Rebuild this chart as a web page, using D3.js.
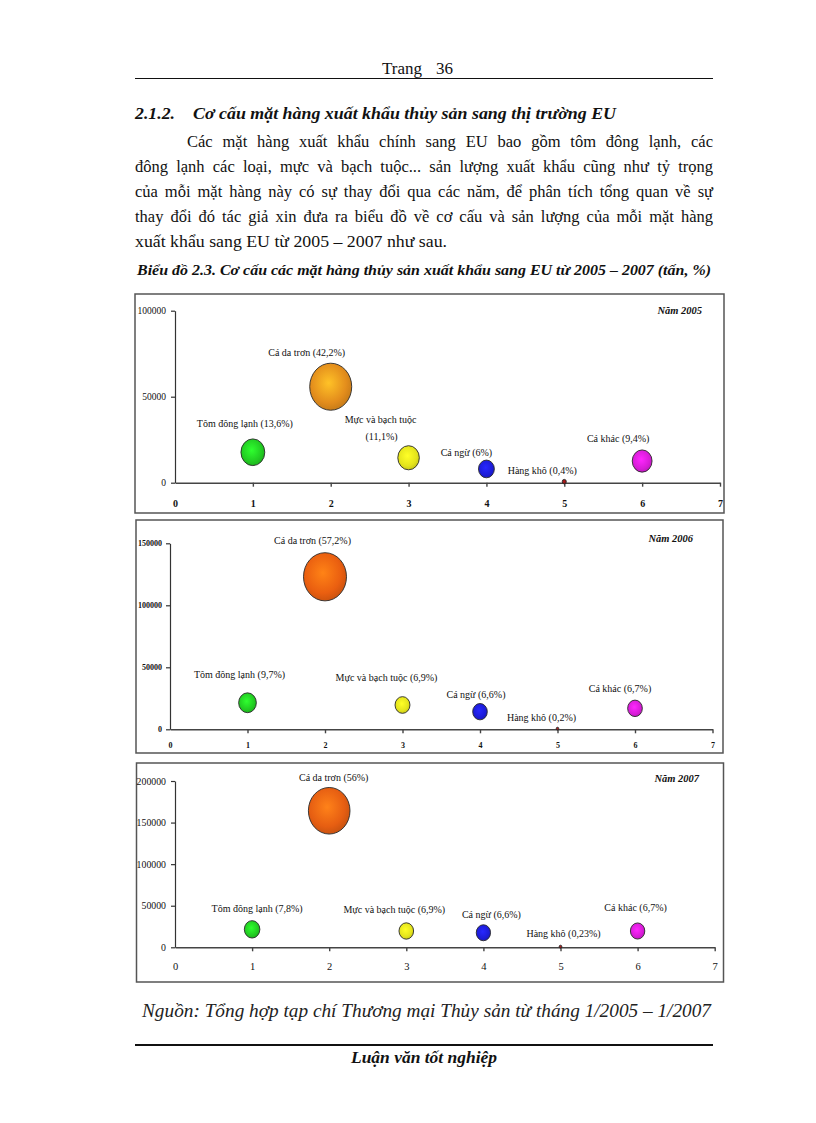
<!DOCTYPE html>
<html><head><meta charset="utf-8">
<script src="https://cdn.jsdelivr.net/npm/d3@7"></script>
<style>
body{margin:0;background:#fff}
svg{display:block}
</style>
</head><body>
<div id="page"></div>
<script>
// ---------- DATA ----------
const categories = ["Tôm đông lạnh", "Cá da trơn", "Mực và bạch tuộc", "Cá ngừ", "Hàng khô", "Cá khác"];
const xPositions = [1, 2, 3, 4, 5, 6];
const years = ["2005", "2006", "2007"];
// export volume (tonnes)
const tonnes2005 = [17700, 55800, 14500, 8000, 600, 12600];
const tonnes2006 = [21400, 123000, 19600, 14200, 500, 16900];
const tonnes2007 = [21600, 164200, 19600, 17500, 700, 19600];
// share (%), bubble size
const share2005 = [13.6, 42.2, 11.1, 6, 0.4, 9.4];
const share2006 = [9.7, 57.2, 6.9, 6.6, 0.2, 6.7];
const share2007 = [7.8, 56, 6.9, 6.6, 0.23, 6.7];
const yTicks2005 = [0, 50000, 100000];
const yTicks2006 = [0, 50000, 100000, 150000];
const yTicks2007 = [0, 50000, 100000, 150000, 200000];
const xTicks = [0, 1, 2, 3, 4, 5, 6, 7];

// ---------- STYLE / LAYOUT ----------
const W = 816, H = 1123;
const serif = "'Liberation Serif','Times New Roman',serif";
const baseColors = ["#22cc22", null, "#e4e41c", "#1c1cd8", "#8a1515", "#d81cd8"];
const catfishColors = {"2005": "#e38d1c", "2006": "#ea5f10", "2007": "#e65e12"};

const panels = [
  {year: "2005", tonnes: tonnes2005, share: share2005, yTicks: yTicks2005,
   frame: [135, 294, 724, 513], plot: {left: 175, right: 720, bottom: 482.7, top: 310.7},
   maxR: 21, yFont: 9.5, yWeight: "normal", xFont: 10, xWeight: "bold", xPad: 13, yPad: 5,
   yearPos: [702, 314], labelFont: 10,
   labelOff: [[-8, -29], [-24, -34], [-28, -38], [-20, -16], [-22, -11], [-24, -23]], wrap: [2]},
  {year: "2006", tonnes: tonnes2006, share: share2006, yTicks: yTicks2006,
   frame: [136, 520, 723, 753], plot: {left: 170, right: 712.5, bottom: 729.3, top: 543.3},
   maxR: 21.5, yFont: 8, yWeight: "bold", xFont: 8, xWeight: "bold", xPad: 9, yPad: 4,
   yearPos: [693, 542], labelFont: 10,
   labelOff: [[-8, -28], [-12.5, -36], [-16, -27], [-4, -17], [-16, -11], [-15, -20]], wrap: []},
  {year: "2007", tonnes: tonnes2007, share: share2007, yTicks: yTicks2007,
   frame: [136.5, 763, 723.5, 982], plot: {left: 175, right: 714.7, bottom: 947.3, top: 781},
   maxR: 20.8, yFont: 9.8, yWeight: "normal", xFont: 10.5, xWeight: "normal", xPad: 11, yPad: 5,
   yearPos: [699, 781.5], labelFont: 10,
   labelOff: [[5, -21], [4.5, -33], [-12, -22], [8, -18], [3, -13], [-2, -24]], wrap: []}
];
const aspect = 1.12;

const svg = d3.select("#page").append("svg").attr("width", W).attr("height", H)
  .style("font-family", serif);
svg.append("rect").attr("width", W).attr("height", H).attr("fill", "#fff");

function txt(x, y, s, o = {}) {
  const t = svg.append("text").attr("x", x).attr("y", y).text(s)
    .attr("font-size", o.size || 17).attr("fill", "#111");
  if (o.bold) t.attr("font-weight", "bold");
  if (o.italic) t.attr("font-style", "italic");
  if (o.anchor) t.attr("text-anchor", o.anchor);
  if (o.len) t.attr("textLength", o.len).attr("lengthAdjust", "spacingAndGlyphs");
  return t;
}

// ---------- PAGE TEXT ----------
txt(382, 74, "Trang", {size: 17});
txt(436, 74, "36", {size: 17});
svg.append("line").attr("x1", 135).attr("x2", 713).attr("y1", 78.5).attr("y2", 78.5)
  .attr("stroke", "#111").attr("stroke-width", 1);

txt(135, 119, "2.1.2.", {size: 16.5, bold: true, italic: true, len: 40});
txt(193, 119, "Cơ cấu mặt hàng xuất khẩu thủy sản sang thị trường EU", {size: 16.5, bold: true, italic: true, len: 423});

const para = [
  ["Các mặt hàng xuất khẩu chính sang EU bao gồm tôm đông lạnh, các", 187, 526, true],
  ["đông lạnh các loại, mực và bạch tuộc... sản lượng xuất khẩu cũng như tỷ trọng", 135, 578, true],
  ["của mỗi mặt hàng này có sự thay đổi qua các năm, để phân tích tổng quan về sự", 135, 578, true],
  ["thay đổi đó tác giả xin đưa ra biểu đồ về cơ cấu và sản lượng của mỗi mặt hàng", 135, 578, true],
  ["xuất khẩu sang EU từ 2005 – 2007 như sau.", 135, 312, false]
];
para.forEach((p, i) => {
  const t = txt(p[1], 147 + i * 25, p[0], {size: 16.5});
  const natural = t.node().getComputedTextLength();
  if (p[3]) {
    const spaces = (p[0].match(/ /g) || []).length;
    const extra = (p[2] - natural) / spaces;
    if (extra >= 0) t.attr("word-spacing", extra);
    else t.attr("textLength", p[2]).attr("lengthAdjust", "spacingAndGlyphs");
  } else {
    t.attr("textLength", p[2]).attr("lengthAdjust", "spacingAndGlyphs");
  }
});

txt(137, 275, "Biểu đồ 2.3. Cơ cấu các mặt hàng thủy sản xuất khẩu sang EU từ 2005 – 2007 (tấn, %)",
  {size: 15, bold: true, italic: true, len: 574});

txt(142, 1017, "Nguồn: Tổng hợp tạp chí Thương mại Thủy sản từ tháng 1/2005 – 1/2007",
  {size: 18.5, italic: true, len: 569}).attr("fill", "#222");
svg.append("line").attr("x1", 135).attr("x2", 713).attr("y1", 1045).attr("y2", 1045)
  .attr("stroke", "#111").attr("stroke-width", 1.8);
txt(424, 1063, "Luận văn tốt nghiệp", {size: 17, bold: true, italic: true, anchor: "middle", len: 146});

// ---------- GRADIENTS ----------
const defs = svg.append("defs");
function grad(id, base) {
  const g = defs.append("radialGradient").attr("id", id)
    .attr("cx", "45%").attr("cy", "42%").attr("r", "60%");
  g.append("stop").attr("offset", "0%").attr("stop-color", d3.color(base).brighter(0.9));
  g.append("stop").attr("offset", "70%").attr("stop-color", base);
  g.append("stop").attr("offset", "100%").attr("stop-color", d3.color(base).darker(0.4));
}

// ---------- CHARTS ----------
const fmtShare = s => String(s).replace(".", ",");

panels.forEach((p, pi) => {
  const [fx1, fy1, fx2, fy2] = p.frame;
  svg.append("rect").attr("x", fx1).attr("y", fy1).attr("width", fx2 - fx1).attr("height", fy2 - fy1)
    .attr("fill", "#fff").attr("stroke", "#555").attr("stroke-width", 1.5);

  const x = d3.scaleLinear().domain([0, 7]).range([p.plot.left, p.plot.right]);
  const y = d3.scaleLinear().domain([0, d3.max(p.yTicks)]).range([p.plot.bottom, p.plot.top]);
  const r = d3.scaleSqrt().domain([0, d3.max(p.share)]).range([0, p.maxR]);

  const g = svg.append("g");

  const yAxis = g.append("g").attr("transform", `translate(${p.plot.left},0)`)
    .call(d3.axisLeft(y).tickValues(p.yTicks).tickFormat(d3.format("d")).tickSize(4).tickSizeOuter(0).tickPadding(p.yPad));
  yAxis.selectAll("path,line").attr("stroke", "#333").attr("stroke-width", 1.2);
  yAxis.selectAll("text").attr("font-family", serif).attr("font-size", p.yFont)
    .attr("font-weight", p.yWeight).attr("fill", "#111");

  const xAxis = g.append("g").attr("transform", `translate(0,${p.plot.bottom})`)
    .call(d3.axisBottom(x).tickValues(xTicks).tickFormat(d3.format("d")).tickSize(4).tickSizeOuter(0).tickPadding(p.xPad));
  xAxis.selectAll("path,line").attr("stroke", "#444").attr("stroke-width", 1.4);
  xAxis.select(".tick line").attr("stroke-width", 0);
  xAxis.selectAll("text").attr("font-family", serif).attr("font-size", p.xFont)
    .attr("font-weight", p.xWeight).attr("fill", "#111");

  // bubbles
  const pts = categories.map((c, i) => ({c, i, xv: xPositions[i], t: p.tonnes[i], s: p.share[i]}));
  pts.forEach(d => {
    const base = d.i === 1 ? catfishColors[p.year] : baseColors[d.i];
    const id = `g${pi}_${d.i}`;
    grad(id, base);
    d.fill = `url(#${id})`;
  });
  g.selectAll("ellipse.b").data(pts).enter().append("ellipse").attr("class", "b")
    .attr("cx", d => x(d.xv)).attr("cy", d => y(d.t))
    .attr("rx", d => r(d.s)).attr("ry", d => r(d.s) * aspect)
    .attr("fill", d => d.fill).attr("stroke", "#2a2a2a").attr("stroke-width", 0.9);

  // labels
  pts.forEach(d => {
    const [dx, dy] = p.labelOff[d.i];
    const cx = x(d.xv) + dx, cy = y(d.t) + dy;
    const t = g.append("text").attr("x", cx).attr("y", cy).attr("dy", "0.35em")
      .attr("text-anchor", "middle").attr("font-size", p.labelFont).attr("fill", "#111");
    if (p.wrap.includes(d.i)) {
      t.text(d.c);
      g.append("text").attr("x", cx + 1).attr("y", cy + 17).attr("dy", "0.35em")
        .attr("text-anchor", "middle").attr("font-size", p.labelFont).attr("fill", "#111")
        .text(`(${fmtShare(d.s)}%)`);
    } else {
      t.text(`${d.c} (${fmtShare(d.s)}%)`);
    }
  });

  // year tag
  g.append("text").attr("x", p.yearPos[0]).attr("y", p.yearPos[1]).attr("text-anchor", "end")
    .attr("font-size", 10.5).attr("font-weight", "bold").attr("font-style", "italic").attr("fill", "#111")
    .text(`Năm ${p.year}`);
});
</script>
</body></html>
